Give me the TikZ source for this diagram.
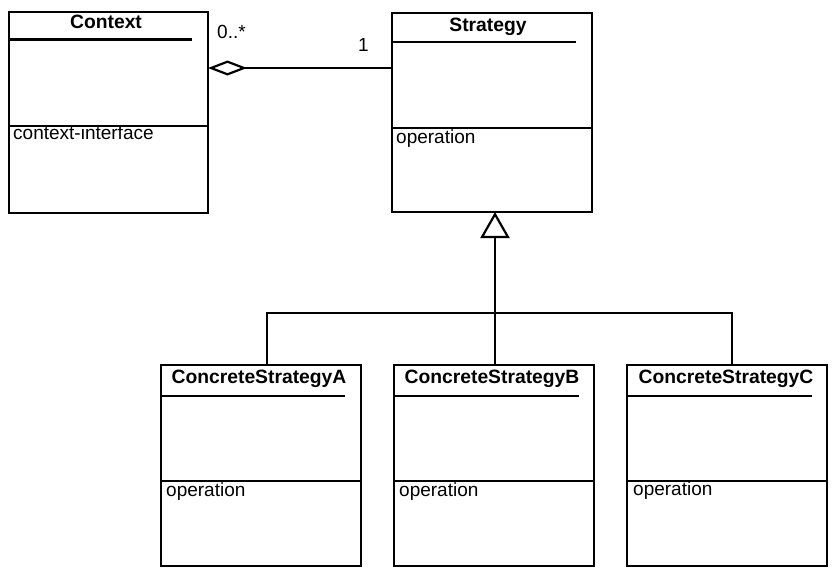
\documentclass[tikz,border=0pt]{standalone}
\usepackage{fontspec}
\setmainfont{Liberation Sans}
\usetikzlibrary{arrows.meta}
\begin{document}
\begin{tikzpicture}[x=1pt,y=-1pt,
  cls/.style={draw,line width=2.7pt,rectangle,inner sep=0pt,outer sep=0pt,anchor=north west,minimum width=200pt,minimum height=201pt},
  ttl/.style={font=\fontsize{19.3}{19}\selectfont\bfseries,inner sep=0pt,anchor=base},
  txt/.style={font=\fontsize{19}{19}\selectfont,inner sep=0pt,anchor=base west},
  rule/.style={line width=2.6pt},
  conn/.style={line width=2.2pt},
  agg/.style={conn,-{Diamond[open,length=39pt,width=15pt,line width=2.2pt]}},
  gen/.style={conn,-{Triangle[open,length=26pt,width=29pt,line width=2.2pt]}}]
\useasboundingbox (0,0) rectangle (838,576);
\fill[white] (0,0) rectangle (838,576);
% boxes
\node[cls,minimum width=199pt] (ctx) at (9,12) {};
\node[cls,minimum height=199pt] (st) at (392,13) {};
\node[cls] (ca) at (161,365) {};
\node[cls] (cb) at (394,365) {};
\node[cls] (cc) at (627,365) {};
% Context
\node[ttl] (ctxT) at (106,28) {Context};
\draw[rule] (9,39.5) -- (192,39.5);
\draw[rule] (9,126) -- (208,126);
\node[txt] (ctxA) at (13,139) {context-interface};
% Strategy
\node[ttl] (stT) at (488,31.5) {Strategy};
\draw[rule] (392,42) -- (576,42);
\draw[rule] (392,128) -- (592,128);
\node[txt] (stO) at (396,143) {operation};
% Concrete A
\node[ttl] (caT) at (259,383) {ConcreteStrategyA};
\draw[rule] (161,396) -- (345,396);
\draw[rule] (161,481) -- (361,481);
\node[txt] (caO) at (166,496) {operation};
% Concrete B
\node[ttl] (cbT) at (492,383) {ConcreteStrategyB};
\draw[rule] (394,396) -- (579,396);
\draw[rule] (394,481) -- (594,481);
\node[txt] (cbO) at (399,496) {operation};
% Concrete C
\node[ttl] (ccT) at (726,383) {ConcreteStrategyC};
\draw[rule] (627,396) -- (812,396);
\draw[rule] (627,481) -- (827,481);
\node[txt] (ccO) at (633,495) {operation};
% aggregation
\coordinate (aggY) at (0,68);
\draw[agg] (st.west |- aggY) -- (ctx.east |- aggY);
\node[txt] (m1) at (217,38) {0..*};
\node[txt] (m2) at (358,51) {1};
% generalization
\coordinate (triX) at (495,0);
\coordinate (busA) at (267,313);
\coordinate (busC) at (732,313);
\draw[conn] (ca.north -| busA) -- (busA) -- (busC) -- (cc.north -| busC);
\draw[gen] (cb.north -| triX) -- (st.south -| triX);
\end{tikzpicture}
\end{document}
